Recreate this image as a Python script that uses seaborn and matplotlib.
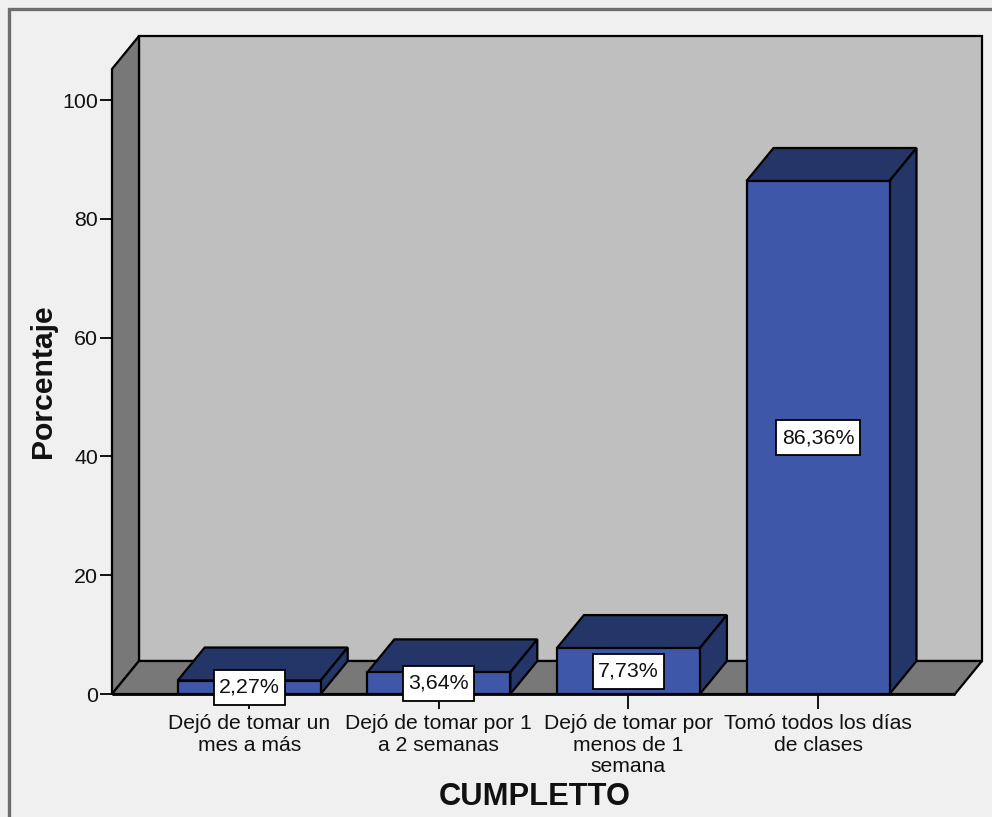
import matplotlib
matplotlib.use("Agg")
import matplotlib.pyplot as plt
from matplotlib.patches import Polygon, Rectangle
import pandas as pd
import seaborn as sns

categories = [
    "Dejó de tomar un\nmes a más",
    "Dejó de tomar por 1\na 2 semanas",
    "Dejó de tomar por\nmenos de 1\nsemana",
    "Tomó todos los días\nde clases",
]
percentages = [2.27, 3.64, 7.73, 86.36]
value_labels = ["2,27%", "3,64%", "7,73%", "86,36%"]
y_ticks = [0, 20, 40, 60, 80, 100]

BG = "#F0F0F0"
WALL = "#BFBFBF"
SIDE = "#787878"
FRONT = "#3E57A8"
TOP = "#243568"
INK = "#111111"

sns.set_theme(style="white")
plt.rcParams["font.family"] = ["Liberation Sans", "DejaVu Sans"]

W, H = 992, 817
fig = plt.figure(figsize=(W / 100, H / 100), dpi=100, facecolor=BG)

# Axes span the front plane plus the room for the oblique depth
left, right, bottom, top = 112, 982, 694, 36
ax = fig.add_axes([left / W, 1 - bottom / H, (right - left) / W, (bottom - top) / H])

cat_step = 189.6
val_step = 5.94
first_center = 249.2
xlim = ((left - first_center) / cat_step, (right - first_center) / cat_step)
ylim = (0, (bottom - top) / val_step)
ax.patch.set_visible(False)

dx = 27 / cat_step
dy = 33 / val_step
x0 = xlim[0]
x1 = xlim[1] - dx
y_top = ylim[1] - dy
lw = 1.6


def prism(points, color, z):
    ax.add_patch(Polygon(points, closed=True, facecolor=color, edgecolor="black",
                         linewidth=lw, joinstyle="miter", clip_on=False, zorder=z))


# Room: back wall, left wall, floor
prism([(x0 + dx, dy), (x1 + dx, dy), (x1 + dx, y_top + dy), (x0 + dx, y_top + dy)], WALL, 1)
prism([(x0, 0), (x0 + dx, dy), (x0 + dx, y_top + dy), (x0, y_top)], SIDE, 1.1)
prism([(x0, 0), (x1, 0), (x1 + dx, dy), (x0 + dx, dy)], SIDE, 1.1)

# Bar fronts
frame = pd.DataFrame({"categoria": categories, "porcentaje": percentages})
bar_width = 143 / cat_step
sns.barplot(data=frame, x="categoria", y="porcentaje", color=FRONT, saturation=1,
            width=bar_width, edgecolor="black", linewidth=lw, ax=ax, zorder=3)
ax.set_xlim(*xlim)
ax.set_ylim(*ylim)

# Bar tops and right faces, plus the centred value boxes
box_w = 71 / cat_step
box_h = 35 / val_step
for i, (v, text) in enumerate(zip(percentages, value_labels)):
    a, b = i - bar_width / 2, i + bar_width / 2
    prism([(a, v), (b, v), (b + dx, v + dy), (a + dx, v + dy)], TOP, 2.9)
    prism([(b, 0), (b + dx, dy), (b + dx, v + dy), (b, v)], TOP, 2.9)
    width = box_w * (1.17 if len(text) > 5 else 1.0)
    ax.add_patch(Rectangle((i - width / 2, v / 2 - box_h / 2), width, box_h, facecolor="white",
                           edgecolor="black", linewidth=1.3, clip_on=False, zorder=6))
    ax.text(i, v / 2, text, ha="center", va="center", fontsize=15.4, color=INK, zorder=7,
            clip_on=False)

# Front edge of the floor drawn over the bar bases
ax.plot([x0, x1], [0, 0], color="black", lw=2, clip_on=False, zorder=4, solid_capstyle="butt")

for s in ax.spines.values():
    s.set_visible(False)
ax.set_yticks(y_ticks)
ax.set_xticks(range(len(categories)))
ax.set_xticklabels(categories, fontsize=15.2, color=INK, linespacing=1.17)
ax.tick_params(axis="y", left=True, length=9, width=1.4, color=INK, labelsize=15.4, labelcolor=INK, pad=1)
ax.tick_params(axis="x", bottom=True, length=10.5, width=1.4, color=INK, pad=4)
ax.set_xlabel("")
ax.set_ylabel("")

fig.text(43 / W, 1 - 381 / H, "Porcentaje", rotation=90, ha="center", va="center",
         fontsize=21.7, fontweight="bold", color=INK)
fig.text(535 / W, 1 - 797 / H, "CUMPLETTO", ha="center", va="center",
         fontsize=22.2, fontweight="bold", color=INK)

# Outer frame around the chart, running off the right and bottom of the image
fig.add_artist(Rectangle((9 / W, -0.05), 1.1, 1.05 - 9 / H, transform=fig.transFigure,
                         facecolor="none", edgecolor="#6E6E6E", linewidth=2.4))

fig.savefig("out.png", dpi=100, facecolor=BG)
